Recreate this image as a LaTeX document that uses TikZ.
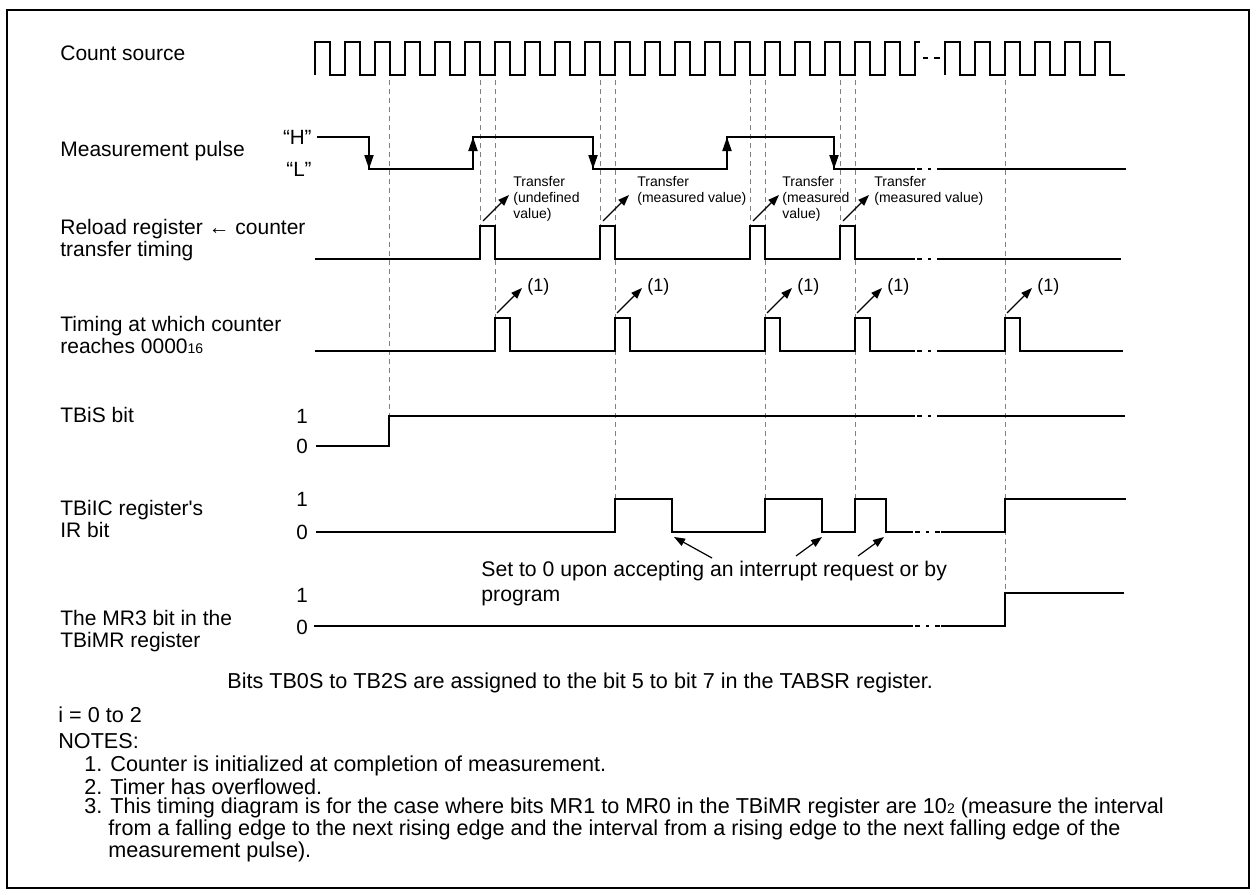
\documentclass[tikz,border=0pt]{standalone}
\usepackage{fontspec}
\setmainfont{Liberation Sans}[Ligatures=TeXOff]
\usetikzlibrary{arrows.meta}

\tikzset{
  sig/.style={line width=1pt},
  guide/.style={gray, line width=0.5pt, dash pattern=on 2.5pt off 2pt},
  brk/.style={line width=1pt, dash pattern=on 2.5pt off 3pt on 1.5pt off 3pt},
  edgearrow/.style={line width=1pt, -{Triangle[length=7pt,width=4.5pt]}},
  callout/.style={line width=0.6pt, -{Triangle[length=5.5pt,width=4pt]}},
  lbl/.style={anchor=west, align=left, inner sep=0pt, font=\fontsize{10.5}{11}\selectfont},
  notelbl/.style={anchor=west, inner sep=0pt, font=\fontsize{10.8}{12}\selectfont},
  trlbl/.style={anchor=west, align=left, inner sep=0pt, font=\fontsize{7}{8}\selectfont},
  onelbl/.style={anchor=west, inner sep=0pt, font=\fontsize{9}{10}\selectfont},
  lvl/.style={inner sep=0pt, font=\fontsize{10.3}{11}\selectfont}
}

\begin{document}
\begin{tikzpicture}[x=0.5pt,y=-0.5pt]
  \useasboundingbox (0,0) rectangle (1258,894);
  % frame
  \draw[line width=1.25pt] (7,10) rectangle (1249,888);

  % signal names
  \node[lbl] (cnt) at (60,53) {Count source};
  \node[lbl] (meas) at (60,151) {Measurement pulse};
  \node[lbl] (reload) at (60,240) {Reload register ← counter\\transfer timing};
  \node[lbl] (zero) at (60,335) {Timing at which counter\\reaches 0000{\fontsize{7}{8}\selectfont 16}};
  \node[lbl] (tbis) at (60,415) {TBiS bit};
  \node[lbl] (tbiic) at (60,519) {TBiIC register's\\IR bit};
  \node[lbl] (mr3) at (60,631) {The MR3 bit in the\\TBiMR register};

  % levels
  \node[lvl, anchor=east] (hi) at (312,137) {“H”};
  \node[lvl, anchor=east] (lo) at (312,169) {“L”};
  \foreach \n/\y/\t in {s1/416/1, s0/446/0, r1/499/1, r0/532/0, m1/595/1, m0/627/0}
    \node[lvl] (\n) at (302,\y) {\t};

  % guide lines
  \foreach \x/\y in {389/416, 480/226, 495/318, 600/226, 615/499, 750/226, 765/499, 840/226, 855/499, 1005/593}
    \draw[guide] (\x,80) -- (\x,\y);

  % count source
  \draw[sig] (315,75) \foreach \k in {1,...,20} { -- ++(0,-33) -- ++(15,0) -- ++(0,33) -- ++(15,0) } -- ++(0,-33) -- ++(5,0);
  \draw[sig] (923,58) -- (928,58) (934,58) -- (940,58);
  \draw[sig] (945,75) \foreach \k in {1,...,6} { -- ++(0,-33) -- ++(15,0) -- ++(0,33) -- ++(15,0) };

  % measurement pulse
  \draw[sig] (317,137) -- (369,137) -- (369,169) -- (473,169) -- (473,137) -- (593,137) -- (593,169)
    -- (727,169) -- (727,137) -- (834,137) -- (834,169) -- (915,169);
  \draw[brk] (917,169) -- (941,169);
  \draw[sig] (941,169) -- (1126,169);
  \foreach \x/\a/\b in {369/137/169, 473/169/137, 593/137/169, 727/169/137, 834/137/169}
    \draw[edgearrow] (\x,\a) -- (\x,\b);

  % reload transfer timing
  \draw[sig] (315,259) \foreach \x in {480,600,750,840} { -- (\x,259) -- (\x,226) -- (\x+15,226) -- (\x+15,259) } -- (915,259);
  \draw[brk] (917,259) -- (941,259);
  \draw[sig] (941,259) -- (1121,259);
  \node[trlbl] (trA) at (513,199) {Transfer\\(undefined\\value)};
  \node[trlbl] (trB) at (637,191) {Transfer\\(measured value)};
  \node[trlbl] (trC) at (782,199) {Transfer\\(measured\\value)};
  \node[trlbl] (trD) at (874,191) {Transfer\\(measured value)};
  \foreach \x in {480,600,750,840}
    \draw[callout] (\x+3,221) -- (\x+29,195);

  % counter reaches 0000
  \draw[sig] (315,351) \foreach \x in {495,615,765,855} { -- (\x,351) -- (\x,318) -- (\x+15,318) -- (\x+15,351) } -- (915,351);
  \draw[brk] (917,351) -- (941,351);
  \draw[sig] (941,351) -- (1005,351) -- (1005,318) -- (1020,318) -- (1020,351) -- (1123,351);
  \foreach \x [count=\i] in {495,615,765,855,1005} {
    \draw[callout] (\x+2,313) -- (\x+27,288);
    \node[onelbl] (ov\i) at (\x+32,287) {(1)};
  }

  % TBiS bit
  \draw[sig] (316,446) -- (389,446) -- (389,416) -- (915,416);
  \draw[brk] (917,416) -- (941,416);
  \draw[sig] (941,416) -- (1125,416);

  % IR bit
  \draw[sig] (316,532) -- (615,532) -- (615,499) -- (672,499) -- (672,532) -- (765,532) -- (765,499)
    -- (822,499) -- (822,532) -- (855,532) -- (855,499) -- (886,499) -- (886,532) -- (913,532);
  \draw[brk] (915,532) -- (941,532);
  \draw[sig] (941,532) -- (1005,532) -- (1005,499) -- (1126,499);
  \node[lbl, font=\fontsize{10.6}{12.5}\selectfont] (clr) at (481,584) {Set to 0 upon accepting an interrupt request or by\\program};
  \draw[callout] (712,558) -- (674,537);
  \draw[callout] (796,556) -- (822,537);
  \draw[callout] (858,556) -- (884,537);

  % MR3 bit
  \draw[sig] (314,626) -- (913,626);
  \draw[brk] (915,626) -- (941,626);
  \draw[sig] (941,626) -- (1005,626) -- (1005,593) -- (1124,593);

  % notes
  \node[notelbl] (tabsr) at (227,683) {Bits TB0S to TB2S are assigned to the bit 5 to bit 7 in the TABSR register.};
  \node[notelbl] (irange) at (58,715) {i = 0 to 2};
  \node[notelbl] (notes) at (58,741) {NOTES:};
  \node[notelbl] (n1) at (84,766) {1. Counter is initialized at completion of measurement.};
  \node[notelbl] (n2) at (84,787) {2. Timer has overflowed.};
  \node[notelbl] (n3) at (84,808) {3. This timing diagram is for the case where bits MR1 to MR0 in the TBiMR register are 10{\fontsize{7}{8}\selectfont 2} (measure the interval};
  \node[notelbl] (n3b) at (108,830) {from a falling edge to the next rising edge and the interval from a rising edge to the next falling edge of the};
  \node[notelbl] (n3c) at (108,852) {measurement pulse).};
\end{tikzpicture}
\end{document}
